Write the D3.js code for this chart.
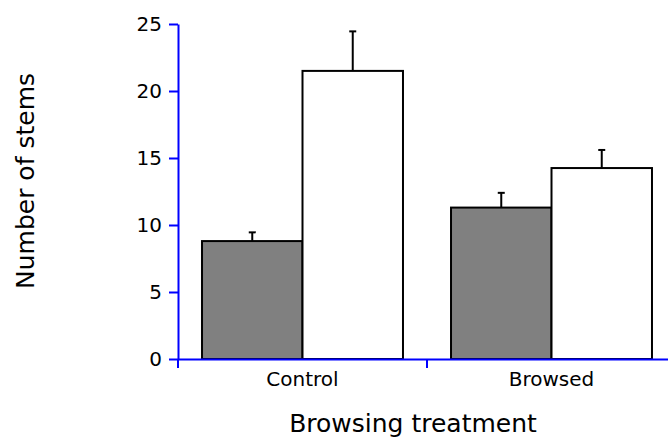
<!DOCTYPE html>
<html>
<head>
<meta charset="utf-8">
<script src="https://cdn.jsdelivr.net/npm/d3@7"></script>
<style>
  html, body { margin: 0; padding: 0; background: #fff; }
  svg { display: block; font-family: "DejaVu Sans", Verdana, sans-serif; }
</style>
</head>
<body>
<svg id="chart" width="668" height="440"></svg>
<script>
// Treatments on the x axis and the two bar series within each treatment
const treatments = ["Control", "Browsed"];
const seriesNames = ["shaded", "open"];
const shadedMeans = [8.8, 11.3];
const shadedErr = [0.65, 1.1];
const openMeans = [21.5, 14.25];
const openErr = [2.95, 1.35];
const yTicks = [0, 5, 10, 15, 20, 25];

const svg = d3.select("#chart");
const plotLeft = 178, plotRight = 676, plotTop = 24, plotBottom = 359;

const x0 = d3.scaleBand().domain(treatments).range([plotLeft, plotRight]).paddingInner(0).paddingOuter(0);
const x1 = d3.scaleBand().domain(seriesNames).range([0, x0.bandwidth()]).paddingInner(0).paddingOuter(0.239);
const y = d3.scaleLinear().domain([0, 25]).range([plotBottom, plotTop]);

const rows = treatments.map((t, i) => ({
  treatment: t,
  bars: [
    { key: "shaded", value: shadedMeans[i], err: shadedErr[i], fill: "#808080" },
    { key: "open", value: openMeans[i], err: openErr[i], fill: "#ffffff" }
  ]
}));

// Bars with upward error whiskers
const groups = svg.selectAll("g.grp").data(rows).enter().append("g")
  .attr("class", "grp")
  .attr("transform", d => `translate(${x0(d.treatment)},0)`);

groups.selectAll("line.err").data(d => d.bars).enter().append("line")
  .attr("x1", d => x1(d.key) + x1.bandwidth() / 2)
  .attr("x2", d => x1(d.key) + x1.bandwidth() / 2)
  .attr("y1", d => y(d.value))
  .attr("y2", d => y(d.value + d.err))
  .attr("stroke", "#000").attr("stroke-width", 2);

groups.selectAll("line.cap").data(d => d.bars).enter().append("line")
  .attr("x1", d => x1(d.key) + x1.bandwidth() / 2 - 3.5)
  .attr("x2", d => x1(d.key) + x1.bandwidth() / 2 + 3.5)
  .attr("y1", d => y(d.value + d.err))
  .attr("y2", d => y(d.value + d.err))
  .attr("stroke", "#000").attr("stroke-width", 2);

groups.selectAll("rect").data(d => d.bars).enter().append("rect")
  .attr("x", d => x1(d.key))
  .attr("width", x1.bandwidth())
  .attr("y", d => y(d.value))
  .attr("height", d => y(0) - y(d.value))
  .attr("fill", d => d.fill)
  .attr("stroke", "#000").attr("stroke-width", 2);

// Y axis
const yAxis = svg.append("g").attr("transform", `translate(${plotLeft},0)`)
  .call(d3.axisLeft(y).tickValues(yTicks).tickSize(9).tickSizeOuter(0).tickPadding(7));
yAxis.select(".domain").attr("stroke", "#0000ff").attr("stroke-width", 2);
yAxis.selectAll(".tick line").attr("stroke", "#0000ff").attr("stroke-width", 2);
yAxis.selectAll(".tick text").attr("font-size", 20).attr("fill", "#000")
  .attr("font-family", "DejaVu Sans, Verdana, sans-serif");

// X axis: tick marks at treatment boundaries, labels centred on each treatment
const xAxis = svg.append("g").attr("transform", `translate(0,${plotBottom})`)
  .call(d3.axisBottom(x0).tickSize(0).tickSizeOuter(0).tickPadding(13));
xAxis.select(".domain").attr("stroke", "#0000ff").attr("stroke-width", 2);
xAxis.selectAll(".tick text").attr("font-size", 20).attr("fill", "#000")
  .attr("font-family", "DejaVu Sans, Verdana, sans-serif");
const bounds = treatments.map(t => x0(t)).concat([x0(treatments[treatments.length - 1]) + x0.bandwidth()]);
xAxis.selectAll("line.bound").data(bounds).enter().append("line")
  .attr("class", "bound")
  .attr("x1", d => d).attr("x2", d => d)
  .attr("y1", 0).attr("y2", 9)
  .attr("stroke", "#0000ff").attr("stroke-width", 2);

// Axis titles
svg.append("text")
  .attr("x", 413).attr("y", 432)
  .attr("text-anchor", "middle")
  .attr("font-size", 25)
  .attr("fill", "#000")
  .text("Browsing treatment");

svg.append("text")
  .attr("transform", "translate(34,181) rotate(-90)")
  .attr("text-anchor", "middle")
  .attr("font-size", 25)
  .attr("fill", "#000")
  .text("Number of stems");
</script>
</body>
</html>
